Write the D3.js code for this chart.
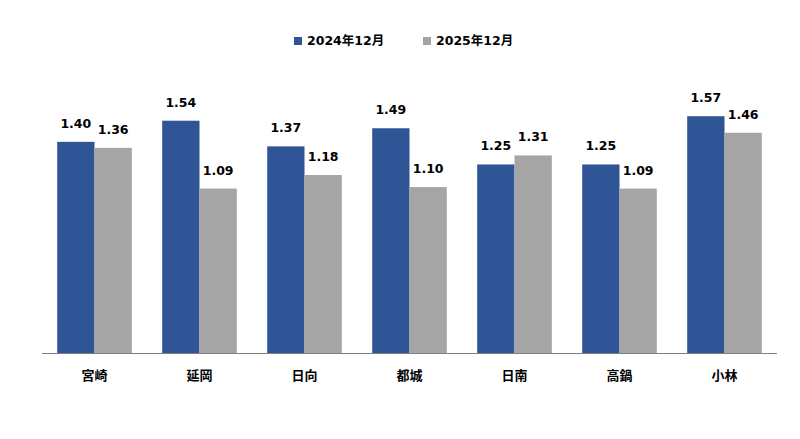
<!DOCTYPE html>
<html><head><meta charset="utf-8">
<script src="https://cdn.jsdelivr.net/npm/d3@7/dist/d3.min.js"></script>
<style>body{margin:0;background:#fff;} svg{display:block;}</style>
</head><body>
<svg id="c" width="800" height="439"></svg>
<script>
const categories = ["宮崎","延岡","日向","都城","日南","高鍋","小林"];
const seriesNames = ["2024年12月","2025年12月"];
const values2024 = [1.40,1.54,1.37,1.49,1.25,1.25,1.57];
const values2025 = [1.36,1.09,1.18,1.10,1.31,1.09,1.46];
const colors = ["#2F5597","#A5A5A5"];

const svg = d3.select("#c");
const font = "'DejaVu Sans','Noto Sans CJK JP',sans-serif";
const x0 = d3.scaleBand().domain(categories).range([42,777]);
const x1 = d3.scaleBand().domain([0,1]).range([0,74.6]);
const y = d3.scaleLinear().domain([0,1.8]).range([353,81.5]);
const series = [values2024, values2025];

const g = svg.append("g");
categories.forEach((c,i)=>{
  const gx = x0(c) + (x0.bandwidth()-74.6)/2;
  series.forEach((vals,s)=>{
    const v = vals[i];
    g.append("rect").attr("x",gx+x1(s)).attr("y",y(v)).attr("width",x1.bandwidth()).attr("height",y(0)-y(v)).attr("fill",colors[s]);
    g.append("text").attr("x",gx+x1(s)+x1.bandwidth()/2).attr("y",y(v)-14)
      .attr("text-anchor","middle").attr("font-family",font).attr("font-weight","bold").attr("font-size",12.5).attr("fill","#000").text(v.toFixed(2));
  });
});
svg.append("line").attr("x1",42).attr("x2",777).attr("y1",353.5).attr("y2",353.5).attr("stroke","#7f7f7f").attr("stroke-width",1.2);
categories.forEach(c=>{
  svg.append("text").attr("x",x0(c)+x0.bandwidth()/2).attr("y",380).attr("text-anchor","middle")
    .attr("font-family","'Noto Sans CJK JP',sans-serif").attr("font-weight","bold").attr("font-size",13).text(c);
});
const legX = [294,423];
seriesNames.forEach((n,s)=>{
  svg.append("rect").attr("x",legX[s]).attr("y",37).attr("width",8).attr("height",8).attr("fill",colors[s]);
  svg.append("text").attr("x",legX[s]+13).attr("y",44.5).attr("font-family",font).attr("font-weight","bold").attr("font-size",12.5).text(n);
});
</script>
</body></html>
